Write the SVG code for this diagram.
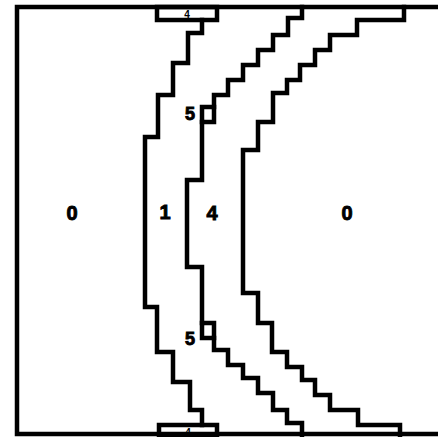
<svg xmlns="http://www.w3.org/2000/svg" width="438" height="437" viewBox="0 0 438 437">
<style>
.ln{fill:none;stroke:#000;stroke-width:4.5;stroke-linejoin:miter;stroke-linecap:square}
.lb{font-family:"Liberation Sans",Arial,sans-serif;font-weight:bold;font-size:20px;fill:#000;stroke:#000;stroke-width:0.9;text-anchor:middle}
.sm{font-family:"Liberation Sans",Arial,sans-serif;font-weight:bold;font-size:10px;fill:#000;text-anchor:middle}
</style>
<rect width="438" height="437" fill="#fff"/>
<g id="frame">
<path class="ln" d="M438,7 H17 V434 H438" stroke-width="5"/>
</g>
<g id="connectors">
<path id="line1" class="ln" d="M202,20 V33 H188 V63 H173 V95 H158 V137 H145 V307 H157 V352 H173 V382 H190 V410 H202 V425"/>
<path id="line2" class="ln" d="M302,7 V18 H288 V35 H273 V50 H258 V65 H243 V80 H228 V95 H214 V107 M202,122 V180 H187 V267 H202 V323 M214,338 V350 H228 V365 H243 V378 H258 V393 H273 V410 H287 V423 H302 V435"/>
<path id="line3" class="ln" d="M404,7 V20 H357 V35 H330 V50 H315 V65 H300 V80 H287 V93 H273 V122 H258 V150 H243 V293 H258 V323 H272 V352 H287 V367 H302 V380 H315 V395 H330 V410 H358 V425 H400 V435"/>
</g>
<g id="box-top">
<rect class="ln" x="157" y="7" width="60" height="13"/>
<text class="sm" x="187" y="18">4</text>
</g>
<g id="box-bottom">
<rect class="ln" x="159" y="425" width="58" height="10"/>
<text class="sm" x="188" y="436">4</text>
</g>
<g id="box-5-upper">
<rect class="ln" x="202" y="107" width="12" height="15"/>
<text class="lb" x="190" y="120" style="font-size:18px">5</text>
</g>
<g id="box-5-lower">
<rect class="ln" x="202" y="323" width="12" height="15"/>
<text class="lb" x="190" y="345" style="font-size:18px">5</text>
</g>
<g id="region-0-left"><text class="lb" x="72" y="220">0</text></g>
<g id="region-1"><text class="lb" x="165" y="219">1</text></g>
<g id="region-4"><text class="lb" x="212" y="220">4</text></g>
<g id="region-0-right"><text class="lb" x="347" y="220">0</text></g>
</svg>
